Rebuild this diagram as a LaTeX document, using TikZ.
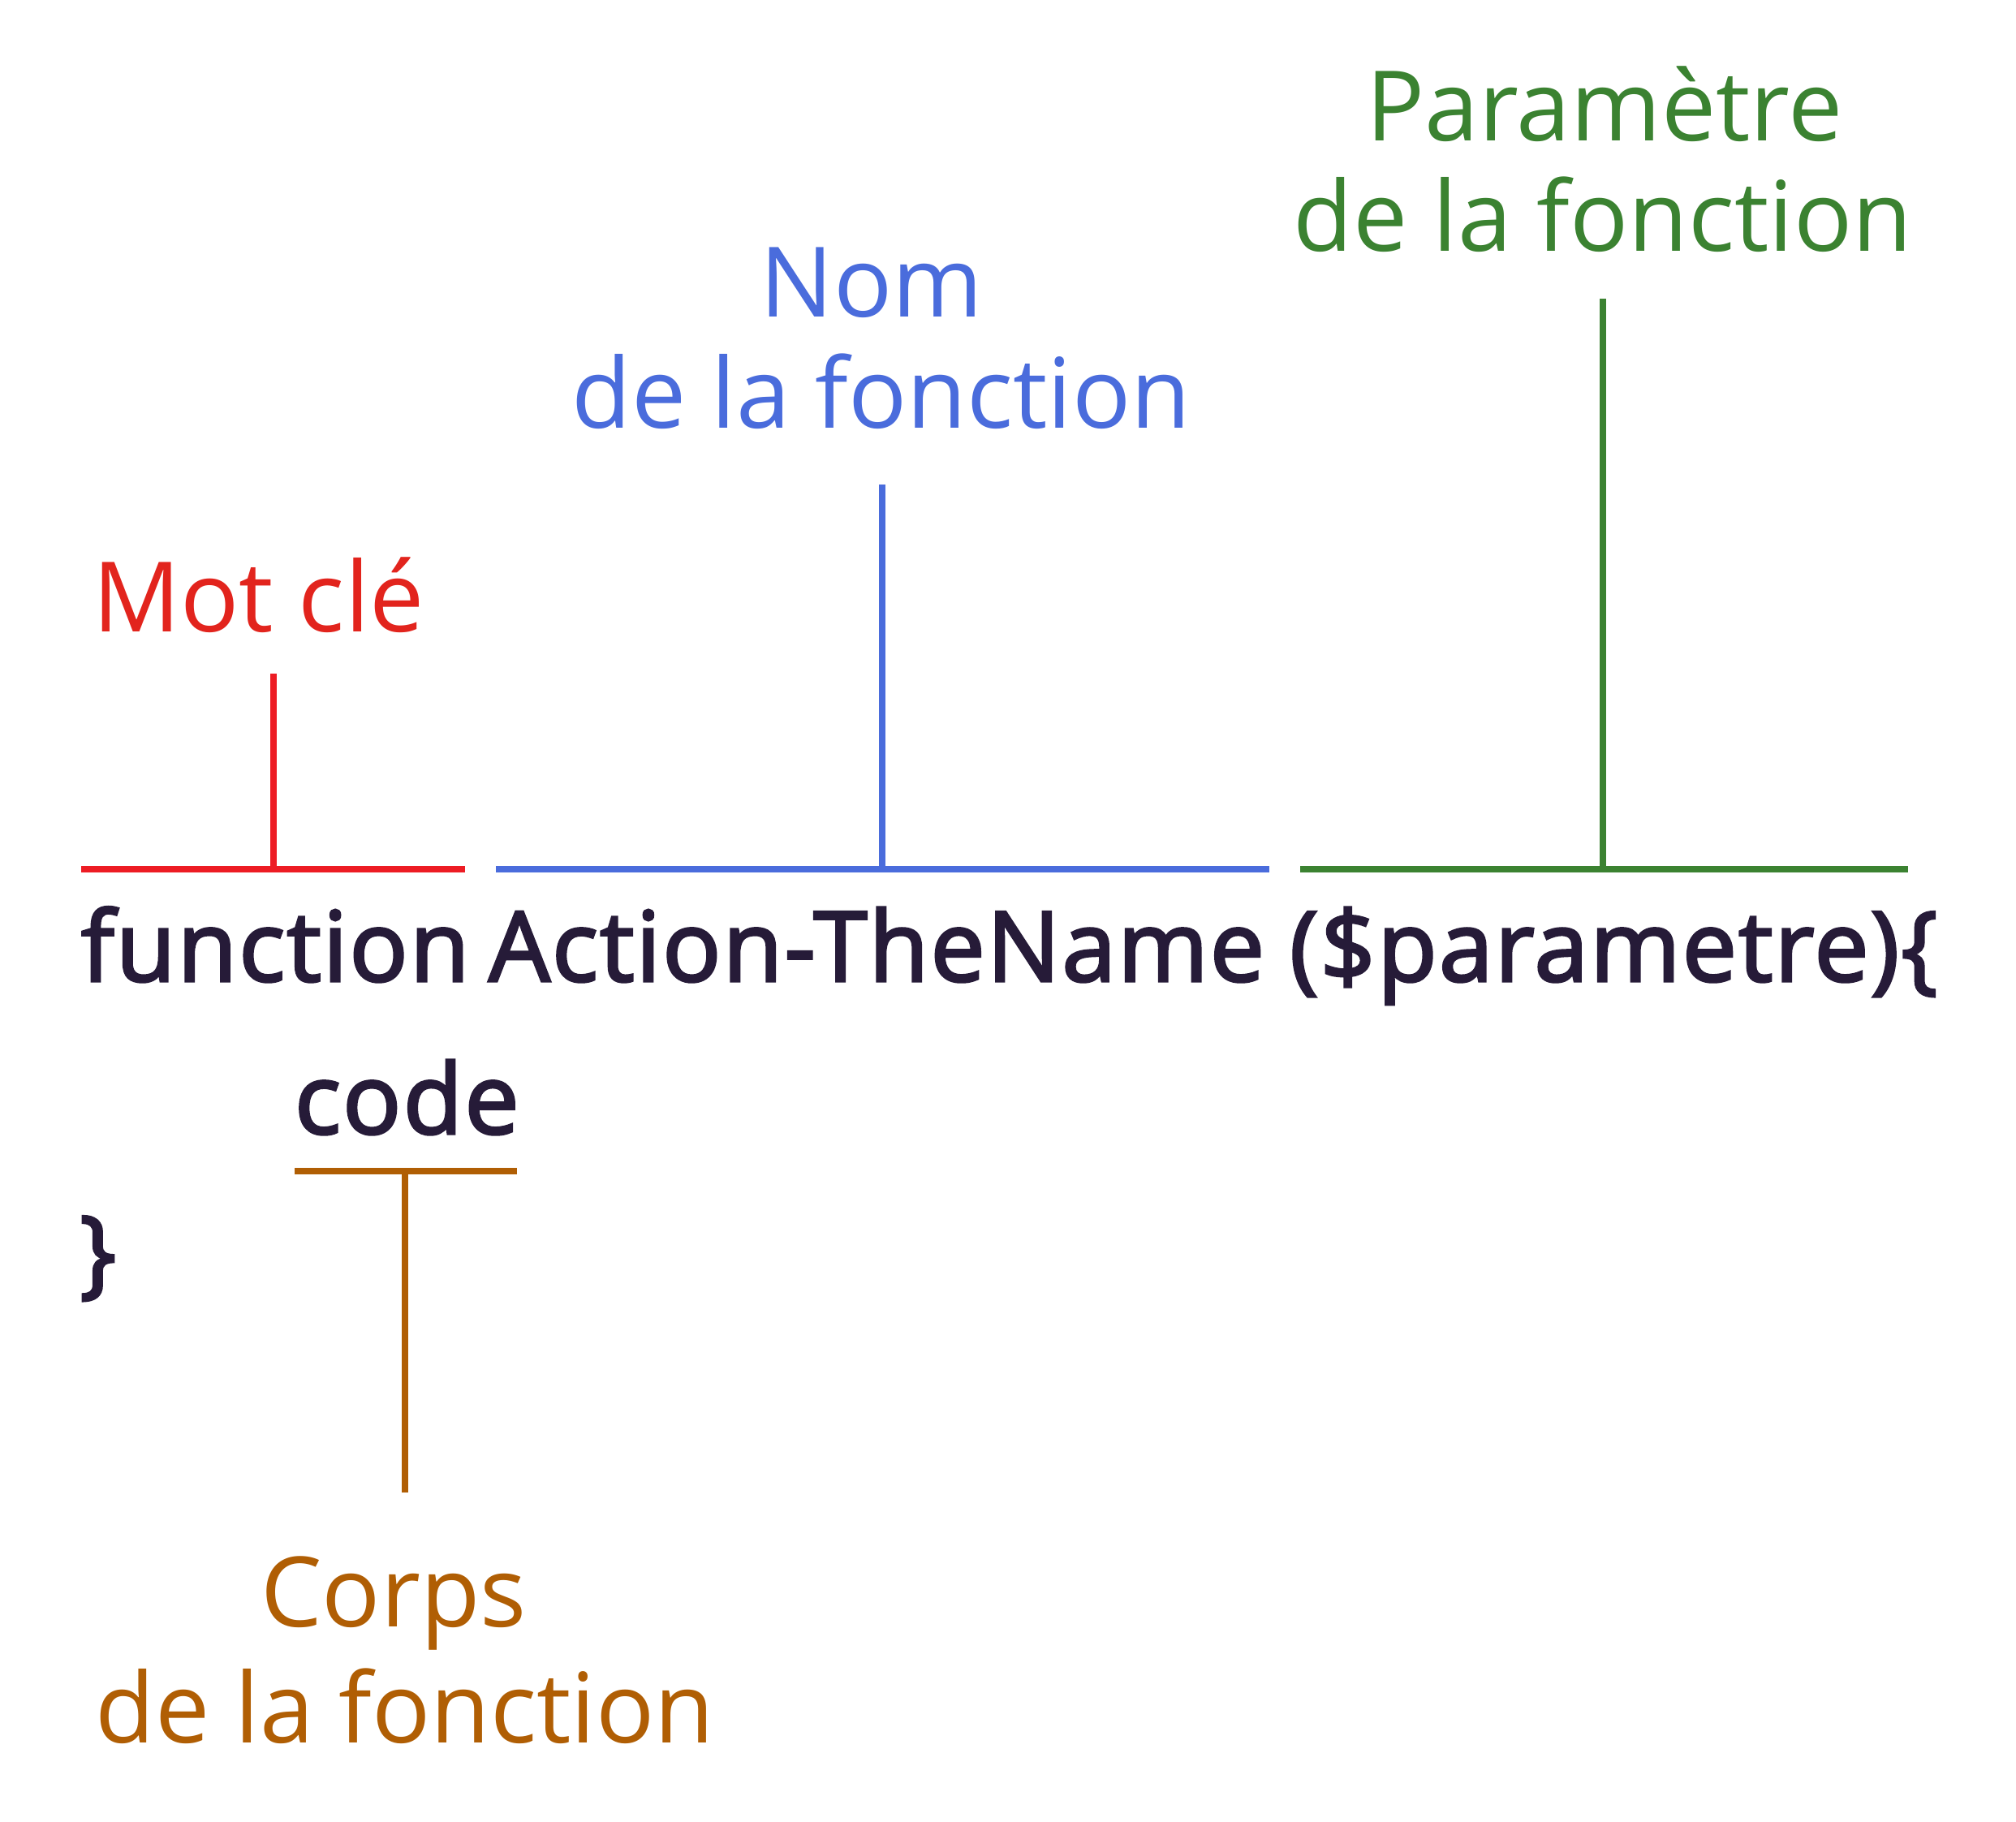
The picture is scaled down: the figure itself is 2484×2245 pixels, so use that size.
\documentclass[tikz,border=0pt]{standalone}
\usepackage{fontspec}
\setmainfont{Open Sans}
\newfontfamily\codefont[FakeBold=2.6,LetterSpace=1.8]{Open Sans}
\definecolor{kred}{HTML}{E2241D}
\definecolor{kredl}{HTML}{ED1C24}
\definecolor{kblue}{HTML}{4A6CDC}
\definecolor{kgreen}{HTML}{3B8231}
\definecolor{kbrown}{HTML}{B05E04}
\definecolor{kdark}{HTML}{261B38}
\tikzset{
  lbl/.style={inner sep=0pt, outer sep=0pt, font=\fontsize{34.1pt}{39pt}\selectfont, align=center},
  codetxt/.style={inner sep=0pt, outer sep=0pt, text=kdark, font=\codefont\fontsize{34.1pt}{39pt}\selectfont, anchor=base west},
  tline/.style={line width=2.1pt, line cap=butt}
}
\begin{document}
\begin{tikzpicture}[x=0.1mm,y=-0.1mm]
\useasboundingbox (0,0) rectangle (2484,2245);
% labels
\node[lbl, text=kred, anchor=base west] (mk) at (114,779) {Mot clé};
\node[lbl, text=kblue, anchor=base] (nom1) at (1074,391) {Nom};
\node[lbl, text=kblue, anchor=base] (nom2) at (1086,528) {de la fonction};
\node[lbl, text=kgreen, anchor=base] (par1) at (1977,174) {Paramètre};
\node[lbl, text=kgreen, anchor=base] (par2) at (1975,310) {de la fonction};
\node[lbl, text=kbrown, anchor=base] (cor1) at (485,2004) {Corps};
\node[lbl, text=kbrown, anchor=base] (cor2) at (499,2147) {de la fonction};
% code
\node[codetxt] (fn) at (100,1209) {function};
\node[codetxt] (act) at (602,1209) {Action-TheName};
\node[codetxt] (prm) at (1589,1209) {(\$parametre)\{};
\node[codetxt] (code) at (363,1397) {code};
\node[codetxt] (brace) at (98,1584) {\}};
% marker coordinates
\coordinate (rL) at (100,1071); \coordinate (rR) at (573,1071);
\coordinate (rM) at (337,1071); \coordinate (rT) at (337,830);
\coordinate (bL) at (611,1071); \coordinate (bR) at (1564,1071);
\coordinate (bM) at (1087,1071); \coordinate (bT) at (1087,597);
\coordinate (gL) at (1602,1071); \coordinate (gR) at (2351,1071);
\coordinate (gM) at (1975,1071); \coordinate (gT) at (1975,368);
\coordinate (oL) at (363,1443); \coordinate (oR) at (637,1443);
\coordinate (oM) at (499,1443); \coordinate (oB) at (499,1839);
\draw[tline, kredl] (rL) -- (rR);
\draw[tline, kredl] (rM) -- (rT);
\draw[tline, kblue] (bL) -- (bR);
\draw[tline, kblue] (bM) -- (bT);
\draw[tline, kgreen] (gL) -- (gR);
\draw[tline, kgreen] (gM) -- (gT);
\draw[tline, kbrown] (oL) -- (oR);
\draw[tline, kbrown] (oM) -- (oB);
\end{tikzpicture}
\end{document}
